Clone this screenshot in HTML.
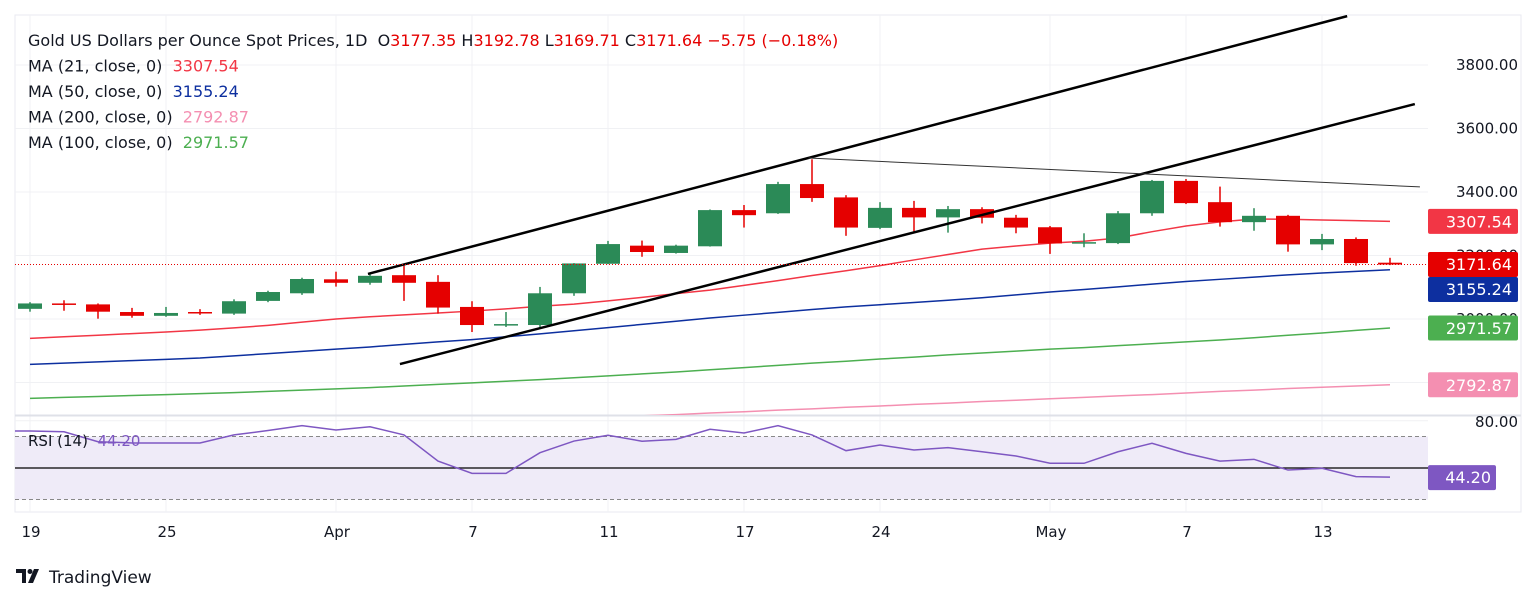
<!DOCTYPE html>
<html><head><meta charset="utf-8">
<style>
html,body{margin:0;padding:0;background:#fff;}
body{width:1536px;height:602px;overflow:hidden;font-family:"DejaVu Sans","Liberation Sans",sans-serif;}
svg text{font-family:"DejaVu Sans","Liberation Sans",sans-serif;white-space:pre;}
</style></head>
<body>
<svg id="chart" width="1536" height="602" xmlns="http://www.w3.org/2000/svg"></svg>
<script>
const opens  =[3032,3049,3046,3022,3010,3022,3017,3057,3081,3125,3114,3138,3117,3038,2980,2981,3081,3174,3231,3208,3229,3343,3333,3425,3383,3287,3350,3320,3346,3319,3289,3238,3239,3333,3435,3368,3305,3325,3235,3252,3177.35];
const highs  =[3053,3059,3049,3035,3038,3031,3062,3089,3130,3149,3143,3168,3138,3056,3022,3101,3176,3246,3247,3234,3345,3359,3432,3503,3390,3368,3372,3356,3352,3328,3293,3270,3340,3438,3441,3417,3349,3328,3268,3257,3192.78];
const lows   =[3023,3026,3001,3004,3007,3013,3013,3053,3076,3102,3108,3057,3017,2959,2975,2972,3073,3173,3196,3206,3228,3288,3331,3369,3262,3283,3270,3272,3301,3270,3205,3226,3236,3325,3362,3291,3278,3212,3217,3168,3169.71];
const closes =[3049,3045,3023,3010,3019,3020,3056,3085,3126,3114,3136,3114,3036,2981,2984,3081,3175,3236,3211,3231,3343,3327,3425,3381,3288,3350,3320,3346,3319,3288,3238,3242,3333,3435,3365,3305,3325,3235,3252,3176,3171.64];
const ma21 =[2939,2944,2949,2954,2959,2965,2972,2980,2990,3000,3007,3013,3019,3025,3032,3040,3047,3057,3068,3080,3091,3106,3121,3137,3152,3168,3186,3203,3220,3230,3239,3245,3255,3275,3293,3306,3315,3314,3312,3310,3307.54];
const ma50 =[2857,2861,2865,2869,2873,2877,2884,2891,2898,2905,2912,2920,2928,2935,2944,2953,2963,2973,2983,2993,3003,3012,3021,3030,3038,3045,3052,3059,3067,3076,3085,3093,3101,3110,3118,3125,3132,3139,3145,3150,3155.24];
const ma100=[2750,2753,2756,2759,2762,2765,2768,2772,2776,2780,2784,2789,2794,2799,2804,2809,2815,2821,2827,2833,2840,2847,2854,2861,2867,2874,2880,2887,2893,2899,2905,2910,2916,2922,2928,2934,2941,2949,2956,2964,2971.57];
const ma200Start=17;
const ma200=[2690,2695,2699,2704,2708,2713,2717,2722,2726,2731,2735,2740,2744,2749,2753,2758,2762,2767,2772,2776,2781,2785,2789,2792.87];
const rsi=[73.5,73.0,66.7,65.9,65.9,65.9,71.0,73.8,76.9,74.1,76.2,71.0,54.4,46.6,46.6,59.7,67.1,70.8,67.0,68.2,74.6,72.2,76.9,71.0,61.0,64.6,61.4,62.9,60.3,57.6,53.0,53.0,60.3,65.7,59.3,54.4,55.5,48.7,49.8,44.5,44.2];
const priceTicks=[3800,3600,3400,3200,3000,2800];
const dateLabels=["19","25","Apr","7","11","17","24","May","7","13"];
const dateIdx=[0,4,9,13,17,21,25,30,34,38];
const trendUpper=[[9.94,3142],[38.74,3954]];
const trendLower=[[10.88,2858],[40.73,3677]];
const trendThin=[[22.9,3507],[40.88,3416]];

const svg=document.getElementById('chart');
const NS='http://www.w3.org/2000/svg';
function el(tag,attrs,parent){const e=document.createElementNS(NS,tag);for(const k in attrs)e.setAttribute(k,attrs[k]);(parent||svg).appendChild(e);return e;}
const X=i=>30+i*34;
const Y=p=>192-(p-3400)*0.3175;
const RY=v=>468-(v-50)*1.575;
const PL=15,PR=1428,PT=15,PB=415,RB=512;

const defs=el('defs',{});
const cp=el('clipPath',{id:'pclip'},defs);el('rect',{x:PL,y:PT,width:PR-PL,height:PB-PT},cp);
const cr=el('clipPath',{id:'rclip'},defs);el('rect',{x:PL,y:PB,width:PR-PL,height:RB-PB},cr);

let f=el('rect',{x:PL,y:PT,width:1521-PL,height:RB-PT,fill:'none',stroke:'#e8eaf0'});


const grid=el('g',{stroke:'#f0f1f4','stroke-width':1});


priceTicks.forEach(p=>{el('line',{x1:PL,x2:PR,y1:Y(p),y2:Y(p)},grid);});
dateIdx.forEach(i=>{el('line',{x1:X(i),x2:X(i),y1:PT,y2:RB},grid);});
el('line',{x1:PL,x2:PR,y1:RY(80),y2:RY(80)},grid);
let sep=el('line',{x1:PL,x2:1521,y1:PB+0.5,y2:PB+0.5,stroke:'#dfe1e8','stroke-width':2});



const pg=el('g',{'clip-path':'url(#pclip)'});



function maLine(arr,start,color,name){
  let d='';arr.forEach((v,k)=>{d+=(k?'L':'M')+X(start+k)+' '+Y(v);});
  const p=el('path',{d:d,fill:'none',stroke:color,'stroke-width':1.5},pg);
  
  
}
maLine(ma200,ma200Start,'#f48fb1','ma200-line');
maLine(ma100,0,'#4caf50','ma100-line');
maLine(ma50,0,'#0d2f9f','ma50-line');
maLine(ma21,0,'#f23645','ma21-line');

let lp=el('line',{x1:PL,x2:PR,y1:Y(closes[closes.length-1]),y2:Y(closes[closes.length-1]),stroke:'#e50000','stroke-dasharray':'1 2'});



for(let i=0;i<opens.length;i++){
  const up=closes[i]>=opens[i];const c=up?'#2b8a57':'#e50000';
  const g=el('g',{},pg);
  
  
  el('line',{x1:X(i),x2:X(i),y1:Y(highs[i]),y2:Y(lows[i]),stroke:c,'stroke-width':1.5},g);
  const t=Y(Math.max(opens[i],closes[i])),b=Y(Math.min(opens[i],closes[i]));
  el('rect',{x:X(i)-12,y:t,width:24,height:Math.max(1.5,b-t),fill:c},g);
}
function trend(pts,w,color,name){
  const l=el('line',{x1:X(pts[0][0]),y1:Y(pts[0][1]),x2:X(pts[1][0]),y2:Y(pts[1][1]),stroke:color,'stroke-width':w},pg);
  
  
}
trend(trendUpper,2.5,'#000','upper-channel-line');
trend(trendLower,2.5,'#000','lower-channel-line');
trend(trendThin,1,'#333','resistance-line');

priceTicks.forEach(p=>{
  const t=el('text',{x:1518,y:Y(p)+5,'text-anchor':'end','font-size':15,fill:'#131722'});
  t.textContent=p.toFixed(2);
  
  
});
function badge(val,color,name){
  const y=Y(val);
  const g=el('g',{});
  
  
  el('rect',{x:1428,y:y-12.5,width:90,height:25,rx:2,fill:color},g);
  const t=el('text',{x:1512,y:y+6,'text-anchor':'end','font-size':16,fill:'#fff'},g);
  t.textContent=val.toFixed(2);
}
badge(ma21[ma21.length-1],'#f23645','ma21-badge');
badge(ma100[ma100.length-1],'#4caf50','ma100-badge');
badge(ma200[ma200.length-1],'#f48fb1','ma200-badge');
(function(){
  const g=el('g',{});
  
  
  el('rect',{x:1428,y:252,width:90,height:25,rx:2,fill:'#e50000'},g);
  const t=el('text',{x:1512,y:270,'text-anchor':'end','font-size':16,fill:'#fff'},g);t.textContent=closes[closes.length-1].toFixed(2);
  const g2=el('g',{});
  
  
  el('rect',{x:1428,y:277,width:90,height:25,rx:2,fill:'#0d2f9f'},g2);
  const t2=el('text',{x:1512,y:295,'text-anchor':'end','font-size':16,fill:'#fff'},g2);t2.textContent=ma50[ma50.length-1].toFixed(2);
})();

const rg=el('g',{'clip-path':'url(#rclip)'});


el('rect',{x:PL,y:RY(70),width:PR-PL,height:RY(30)-RY(70),fill:'#efebf8'},rg);
el('line',{x1:PL,x2:PR,y1:RY(70),y2:RY(70),stroke:'#888','stroke-dasharray':'4 3'},rg);
el('line',{x1:PL,x2:PR,y1:RY(30),y2:RY(30),stroke:'#888','stroke-dasharray':'4 3'},rg);
el('line',{x1:PL,x2:PR,y1:RY(50),y2:RY(50),stroke:'#000','stroke-width':1.3},rg);
let rd='M'+PL+' '+RY(rsi[0]);rsi.forEach((v,i)=>{rd+='L'+X(i)+' '+RY(v);});
const rl=el('path',{d:rd,fill:'none',stroke:'#7e57c2','stroke-width':1.5},rg);


let r80=el('text',{x:1518,y:RY(80)+6,'text-anchor':'end','font-size':15,fill:'#131722'});
r80.textContent='80.00';


(function(){
  const g=el('g',{});
  
  
  el('rect',{x:1428,y:RY(rsi[rsi.length-1])-12,width:68,height:25,rx:2,fill:'#7e57c2'},g);
  const t=el('text',{x:1491,y:RY(rsi[rsi.length-1])+6,'text-anchor':'end','font-size':16,fill:'#fff'},g);
  t.textContent=rsi[rsi.length-1].toFixed(2);
})();
let rt=el('text',{x:28,y:446,'font-size':15,fill:'#131722'});


rt.innerHTML='RSI (14)  <tspan fill="#7e57c2">44.20</tspan>';

dateLabels.forEach((s,k)=>{
  const t=el('text',{x:X(dateIdx[k])+1,y:537,'text-anchor':'middle','font-size':15,fill:'#131722'});
  t.textContent=s;
  
  
});

const leg=[
 ['Gold US Dollars per Ounce Spot Prices, 1D  ','O<tspan fill="#e50000">3177.35</tspan> H<tspan fill="#e50000">3192.78</tspan> L<tspan fill="#e50000">3169.71</tspan> C<tspan fill="#e50000">3171.64</tspan> <tspan fill="#e50000">−5.75 (−0.18%)</tspan>','header-legend'],
 ['MA (21, close, 0)  ','<tspan fill="#f23645">3307.54</tspan>','ma21-legend'],
 ['MA (50, close, 0)  ','<tspan fill="#0d2f9f">3155.24</tspan>','ma50-legend'],
 ['MA (200, close, 0)  ','<tspan fill="#f48fb1">2792.87</tspan>','ma200-legend'],
 ['MA (100, close, 0)  ','<tspan fill="#4caf50">2971.57</tspan>','ma100-legend']
];
leg.forEach((l,k)=>{
  const t=el('text',{x:28,y:46+k*25.5,'font-size':16,fill:'#131722'});
  t.innerHTML=l[0]+l[1];
  
  
});

const lg=el('g',{});


el('path',{d:'M16 569h10v14h-4v-10h-6z',fill:'#131722'},lg);
el('circle',{cx:30,cy:571.5,r:2.5,fill:'#131722'},lg);
el('path',{d:'M34 569h5l-6 14h-5z',fill:'#131722'},lg);
const lt=el('text',{x:49,y:583,'font-size':17,fill:'#131722'},lg);lt.textContent='TradingView';
</script>
</body></html>
